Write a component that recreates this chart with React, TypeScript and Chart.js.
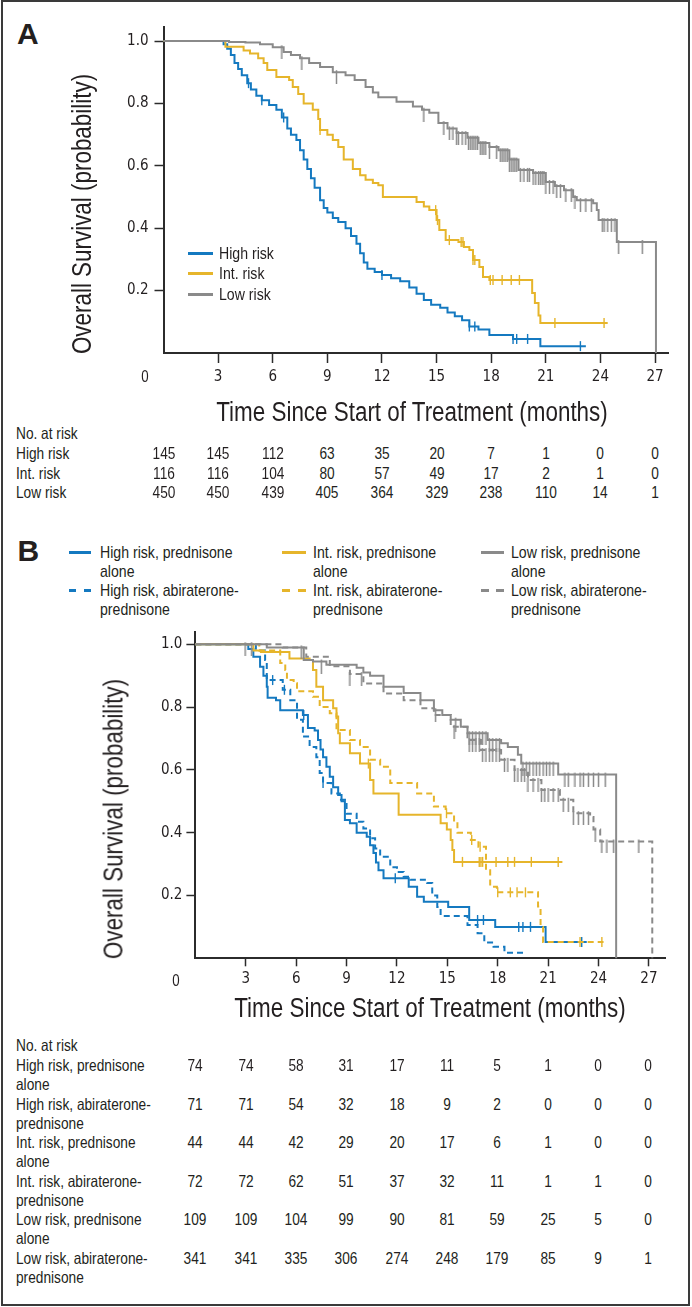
import React, { useEffect, useRef } from "react";
import { Chart, registerables } from "chart.js";

Chart.register(...registerables);

const TEXTFONT = "'Liberation Sans', Arial, sans-serif";
const TICKFONT = "'DejaVu Sans Condensed', 'DejaVu Sans', sans-serif";
const SQUEEZE = 0.83;
const INK = "#231f20";
const AXIS = "#2b2b2b";
const BLUE = "#1479c0";
const YELLOW = "#e6b52b";
const GRAY = "#8a8a8a";

// ---------- axis ticks ----------
const xTickValues = [3, 6, 9, 12, 15, 18, 21, 24, 27];
const yTickValues = [0.2, 0.4, 0.6, 0.8, 1.0];
const riskTimes = [0, 3, 6, 9, 12, 15, 18, 21, 24, 27];

// ---------- Panel A: survival curves (event time, survival after event) ----------
const aHighT = [0, 3.3, 3.5, 3.7, 3.9, 4.1, 4.3, 4.6, 4.8, 5.1, 5.4, 5.8, 6.2, 6.5, 6.8, 7.0, 7.3, 7.5, 7.7, 7.9, 8.1, 8.3, 8.6, 8.8, 9.0, 9.3, 9.6, 10.0, 10.3, 10.6, 10.8, 11.0, 11.2, 11.6, 12.0, 12.5, 13.0, 13.5, 13.9, 14.3, 14.7, 15.2, 15.6, 16.0, 16.4, 16.8, 17.3, 17.9, 19.2, 20.7];
const aHighS = [1, 0.99, 0.975, 0.955, 0.93, 0.91, 0.89, 0.865, 0.845, 0.825, 0.81, 0.795, 0.78, 0.755, 0.72, 0.7, 0.683, 0.65, 0.62, 0.59, 0.56, 0.53, 0.49, 0.465, 0.45, 0.433, 0.42, 0.4, 0.375, 0.35, 0.32, 0.29, 0.27, 0.26, 0.25, 0.24, 0.23, 0.21, 0.19, 0.17, 0.155, 0.145, 0.13, 0.118, 0.105, 0.085, 0.075, 0.058, 0.045, 0.022];
const aHighEnd = 23.2;
const aHighCens = [4.67, 5.4, 6.6, 12.0, 16.8, 17.1, 19.2, 19.4, 20.0, 22.9];

const aIntT = [0, 3.4, 4.4, 4.75, 5.2, 5.5, 5.7, 6.2, 6.9, 7.1, 7.4, 7.7, 8.2, 8.5, 8.6, 9.0, 9.3, 9.6, 9.9, 10.4, 10.8, 11.1, 11.5, 11.8, 12.05, 13.9, 14.3, 14.6, 15.0, 15.15, 15.5, 16.2, 16.5, 16.8, 17.0, 17.35, 17.55, 17.9, 20.25, 20.4, 20.6, 20.7];
const aIntS = [1, 0.982, 0.97, 0.96, 0.945, 0.93, 0.907, 0.885, 0.875, 0.853, 0.83, 0.8, 0.78, 0.75, 0.715, 0.7, 0.683, 0.66, 0.62, 0.59, 0.57, 0.555, 0.545, 0.538, 0.5, 0.484, 0.47, 0.458, 0.426, 0.394, 0.362, 0.356, 0.34, 0.33, 0.298, 0.276, 0.244, 0.234, 0.192, 0.16, 0.12, 0.096];
const aIntEnd = 24.4;
const aIntCens = [8.6, 14.95, 15.05, 15.7, 16.35, 16.45, 17.0, 17.1, 17.95, 18.1, 18.6, 19.1, 19.55, 21.5, 24.2];

const aLowT = [0, 3.6, 4.5, 5.3, 6.0, 6.6, 7.0, 7.5, 8.0, 8.6, 9.3, 10.0, 10.5, 11.1, 11.5, 11.8, 12.8, 13.7, 14.2, 14.6, 15.1, 15.6, 16.1, 16.7, 17.3, 17.9, 18.4, 19.0, 19.5, 20.3, 21.0, 21.5, 22.0, 22.5, 22.7, 23.6, 23.8, 23.9, 24.9, 27.05];
const aLowS = [1, 0.997, 0.995, 0.99, 0.98, 0.965, 0.955, 0.945, 0.93, 0.917, 0.9, 0.89, 0.875, 0.853, 0.835, 0.82, 0.805, 0.79, 0.78, 0.77, 0.737, 0.72, 0.705, 0.69, 0.673, 0.66, 0.65, 0.62, 0.587, 0.577, 0.548, 0.535, 0.522, 0.5, 0.49, 0.48, 0.458, 0.426, 0.356, 0];
const aLowCens = [6.5, 7.6, 9.5, 14.3, 15.4, 15.7, 15.9, 16.1, 16.2, 16.4, 16.6, 16.75, 16.85, 16.95, 17.05, 17.15, 17.25, 17.4, 17.5, 17.6, 17.7, 17.9, 18.3, 18.5, 18.6, 18.7, 18.8, 18.9, 19.0, 19.1, 19.2, 19.3, 19.4, 19.6, 19.8, 20.0, 20.1, 20.3, 20.45, 20.6, 20.7, 20.8, 20.9, 21.0, 21.2, 21.4, 21.6, 21.8, 22.1, 22.4, 22.6, 22.9, 23.2, 23.5, 24.1, 24.2, 24.4, 24.6, 24.8, 25.0, 26.3];

// ---------- Panel B: survival curves ----------
const bHighPT = [0, 3.15, 3.45, 3.85, 4.05, 4.25, 4.3, 4.8, 5.05, 6.4, 6.7, 7.1, 7.3, 7.45, 7.6, 7.8, 8.0, 8.2, 8.5, 8.7, 8.9, 9.2, 9.6, 10.2, 10.4, 10.6, 10.75, 10.9, 11.2, 12.7, 13.2, 13.6, 15.05, 16.3, 17.85, 20.85];
const bHighPS = [1, 0.985, 0.96, 0.928, 0.9, 0.865, 0.83, 0.822, 0.79, 0.775, 0.733, 0.725, 0.695, 0.665, 0.64, 0.61, 0.578, 0.545, 0.52, 0.5, 0.44, 0.43, 0.4, 0.387, 0.36, 0.335, 0.305, 0.28, 0.255, 0.228, 0.196, 0.18, 0.163, 0.122, 0.1, 0.052];
const bHighPEnd = 23.3;
const bHighPCens = [6.45, 11.9, 16.8, 17.15, 19.25, 19.5, 19.95, 23.0];

const bHighAT = [0, 3.6, 4.15, 4.25, 5.2, 5.65, 6.05, 6.4, 6.8, 7.2, 7.4, 7.6, 8.1, 8.6, 9.0, 9.6, 10.0, 10.4, 10.7, 11.0, 11.6, 12.0, 12.4, 12.8, 13.8, 14.1, 14.4, 14.6, 16.2, 16.8, 17.2, 17.75, 18.4];
const bHighAS = [1, 0.98, 0.95, 0.886, 0.855, 0.822, 0.76, 0.706, 0.673, 0.64, 0.59, 0.558, 0.525, 0.505, 0.46, 0.435, 0.413, 0.382, 0.35, 0.323, 0.29, 0.275, 0.26, 0.25, 0.24, 0.2, 0.163, 0.135, 0.106, 0.08, 0.05, 0.037, 0.018];
const bHighAEnd = 19.6;
const bHighACens = [4.6, 5.3, 7.6];

const bIntPT = [0, 3.45, 3.9, 5.6, 6.8, 7.0, 7.2, 7.6, 8.2, 8.4, 8.5, 8.6, 9.2, 9.8, 10.4, 10.6, 12.1, 14.6, 14.97, 15.2, 15.3, 15.4];
const bIntPS = [1, 0.98, 0.975, 0.955, 0.95, 0.918, 0.865, 0.822, 0.796, 0.77, 0.717, 0.685, 0.653, 0.62, 0.568, 0.525, 0.457, 0.43, 0.41, 0.377, 0.345, 0.307];
const bIntPEnd = 21.85;
const bIntPCens = [10.3, 15.9, 16.9, 17.0, 17.1, 17.9, 18.6, 19.0, 20.0, 21.6];

const bIntAT = [0, 3.8, 5.05, 5.35, 5.45, 5.85, 6.05, 7.0, 7.4, 8.0, 8.4, 9.2, 9.8, 10.4, 11.0, 11.6, 13.2, 14.2, 14.9, 15.4, 15.6, 16.4, 16.85, 17.3, 17.55, 17.95, 20.4, 20.55, 20.7];
const bIntAS = [1, 0.98, 0.94, 0.918, 0.886, 0.876, 0.85, 0.833, 0.8, 0.78, 0.727, 0.695, 0.673, 0.632, 0.61, 0.558, 0.525, 0.483, 0.462, 0.43, 0.4, 0.377, 0.355, 0.28, 0.228, 0.21, 0.165, 0.1, 0.052];
const bIntAEnd = 24.3;
const bIntACens = [14.95, 16.45, 16.95, 18.0, 18.75, 19.15, 19.65, 22.9, 24.2];

const bLowPT = [0, 4.25, 6.45, 7.0, 7.8, 9.6, 10.0, 10.4, 11.2, 12.4, 13.4, 14.2, 14.7, 15.2, 15.8, 16.2, 17.4, 18.2, 18.6, 19.2, 19.4, 21.6, 25.05];
const bLowPS = [1, 0.99, 0.95, 0.945, 0.935, 0.925, 0.91, 0.9, 0.865, 0.845, 0.822, 0.79, 0.775, 0.76, 0.737, 0.717, 0.695, 0.685, 0.673, 0.648, 0.62, 0.585, 0];
const bLowPCens = [2.96, 3.35, 6.3, 7.5, 14.3, 15.5, 16.3, 16.5, 16.7, 16.9, 17.1, 17.3, 17.5, 17.7, 17.9, 18.1, 19.5, 19.7, 19.9, 20.1, 20.3, 20.5, 20.7, 20.9, 21.1, 21.3, 22.0, 22.2, 22.6, 22.9, 23.1, 23.4, 23.7, 24.0, 24.4];

const bLowAT = [0, 5.2, 6.6, 8.0, 9.2, 10.0, 11.2, 12.4, 13.4, 14.2, 15.2, 16.2, 17.0, 18.2, 19.0, 19.8, 20.6, 21.7, 22.5, 23.5, 23.7, 24.1, 27.2];
const bLowAS = [1, 0.99, 0.96, 0.93, 0.905, 0.875, 0.843, 0.822, 0.796, 0.775, 0.737, 0.695, 0.663, 0.632, 0.6, 0.568, 0.536, 0.505, 0.462, 0.45, 0.41, 0.372, 0];
const bLowACens = [9.2, 9.9, 15.4, 16.3, 16.5, 16.7, 16.9, 17.1, 17.3, 17.5, 17.7, 17.9, 18.1, 18.4, 18.6, 19.0, 19.2, 19.4, 19.6, 19.8, 20.1, 20.4, 20.6, 20.8, 21.0, 21.3, 21.6, 21.9, 22.2, 22.5, 22.8, 23.1, 23.4, 23.8, 24.2, 24.5, 24.9, 26.4];

// ---------- Numbers at risk ----------
const riskAHigh = [145, 145, 112, 63, 35, 20, 7, 1, 0, 0];
const riskAInt = [116, 116, 104, 80, 57, 49, 17, 2, 1, 0];
const riskALow = [450, 450, 439, 405, 364, 329, 238, 110, 14, 1];

const riskBHighP = [74, 74, 58, 31, 17, 11, 5, 1, 0, 0];
const riskBHighA = [71, 71, 54, 32, 18, 9, 2, 0, 0, 0];
const riskBIntP = [44, 44, 42, 29, 20, 17, 6, 1, 0, 0];
const riskBIntA = [72, 72, 62, 51, 37, 32, 11, 1, 1, 0];
const riskBLowP = [109, 109, 104, 99, 90, 81, 59, 25, 5, 0];
const riskBLowA = [341, 341, 335, 306, 274, 248, 179, 85, 9, 1];

// ---------- helpers ----------
function survAt(ts: number[], ss: number[], t: number) {
  let s = ss[0];
  for (let i = 0; i < ts.length; i++) if (ts[i] <= t) s = ss[i];
  return s;
}
function curve(ts: number[], ss: number[], end: number | null, color: string, dashed: boolean) {
  const data = ts.map((t, i) => ({ x: t, y: ss[i] }));
  if (end !== null) data.push({ x: end, y: ss[ss.length - 1] });
  return {
    data,
    borderColor: color,
    borderWidth: 2,
    borderDash: dashed ? [6, 4] : [],
    stepped: "before" as const,
    pointRadius: 0,
    pointHoverRadius: 0,
    fill: false,
    clip: false as const,
  };
}
// a tick mark hanging below the curve (used for the grey censoring marks)
function hangingTick(color: string) {
  const c = document.createElement("canvas");
  c.width = 3;
  c.height = 24;
  const g = c.getContext("2d")!;
  g.fillStyle = color;
  g.fillRect(0.75, 10, 1.5, 14);
  return c;
}
function censor(ts: number[], ss: number[], cens: number[], color: string, hang: boolean) {
  return {
    data: cens.map((t) => ({ x: t, y: survAt(ts, ss, t) })),
    showLine: false,
    pointStyle: hang ? (hangingTick(color) as any) : ("line" as const),
    pointRotation: hang ? 0 : 90,
    pointRadius: 5,
    pointHoverRadius: 5,
    pointBorderColor: color,
    pointBorderWidth: 1.4,
    borderColor: color,
    clip: false as const,
  };
}

function buildA() {
  return [
    curve(aLowT, aLowS, null, GRAY, false),
    censor(aLowT, aLowS, aLowCens, GRAY, true),
    curve(aIntT, aIntS, aIntEnd, YELLOW, false),
    censor(aIntT, aIntS, aIntCens, YELLOW, false),
    curve(aHighT, aHighS, aHighEnd, BLUE, false),
    censor(aHighT, aHighS, aHighCens, BLUE, false),
  ];
}

function buildB() {
  return [
    curve(bLowPT, bLowPS, null, GRAY, false),
    censor(bLowPT, bLowPS, bLowPCens, GRAY, true),
    curve(bLowAT, bLowAS, null, GRAY, true),
    censor(bLowAT, bLowAS, bLowACens, GRAY, true),
    curve(bIntPT, bIntPS, bIntPEnd, YELLOW, false),
    censor(bIntPT, bIntPS, bIntPCens, YELLOW, false),
    curve(bIntAT, bIntAS, bIntAEnd, YELLOW, true),
    censor(bIntAT, bIntAS, bIntACens, YELLOW, false),
    curve(bHighPT, bHighPS, bHighPEnd, BLUE, false),
    censor(bHighPT, bHighPS, bHighPCens, BLUE, false),
    curve(bHighAT, bHighAS, bHighAEnd, BLUE, true),
    censor(bHighAT, bHighAS, bHighACens, BLUE, false),
  ];
}

type KMProps = {
  top: number;
  height: number;
  build: () => any[];
  xMax: number;
  yMax: number;
  pad: { left: number; right: number; top: number; bottom: number };
  yAxisWidth: number;
  xAxisHeight: number;
  xTickLen: number;
  yTickLen: number;
  xLabelPad: number;
  yLabelPad: number;
};

function KMChart(p: KMProps) {
  const ref = useRef<HTMLCanvasElement>(null);
  useEffect(() => {
    const chart = new Chart(ref.current!, {
      type: "line",
      data: { datasets: p.build() },
      options: {
        animation: false,
        responsive: false,
        devicePixelRatio: 1,
        events: [],
        layout: { padding: p.pad },
        plugins: { legend: { display: false }, tooltip: { enabled: false }, title: { display: false } },
        scales: {
          x: {
            type: "linear",
            min: 0,
            max: p.xMax,
            afterBuildTicks: (s: any) => {
              s.ticks = xTickValues.map((v) => ({ value: v }));
            },
            afterFit: (s: any) => {
              s.height = p.xAxisHeight;
            },
            grid: { drawOnChartArea: false, drawTicks: true, tickLength: p.xTickLen, tickColor: AXIS, tickWidth: 1.5 },
            border: { display: true, color: AXIS, width: 2 },
            ticks: { font: { family: TICKFONT, size: 15 }, color: INK, padding: p.xLabelPad, maxRotation: 0, autoSkip: false },
          },
          y: {
            type: "linear",
            min: 0,
            max: p.yMax,
            afterBuildTicks: (s: any) => {
              s.ticks = yTickValues.map((v) => ({ value: v }));
            },
            afterFit: (s: any) => {
              s.width = p.yAxisWidth;
            },
            grid: { drawOnChartArea: false, drawTicks: true, tickLength: p.yTickLen, tickColor: AXIS, tickWidth: 1.5 },
            border: { display: true, color: AXIS, width: 2 },
            ticks: {
              font: { family: TICKFONT, size: 15 },
              color: INK,
              padding: p.yLabelPad,
              callback: (v: any) => Number(v).toFixed(1),
            },
          },
        },
      } as any,
    });
    return () => chart.destroy();
  }, []);
  return (
    <canvas
      ref={ref}
      width={692}
      height={p.height}
      style={{ position: "absolute", left: 0, top: p.top, width: 692, height: p.height }}
    />
  );
}

function T(props: { x: number; y: number; size?: number; anchor?: "left" | "center"; bold?: boolean; children: React.ReactNode }) {
  const { x, y, size = 17, anchor = "left", bold = false } = props;
  const k = bold ? 1 : SQUEEZE;
  return (
    <div
      style={{
        position: "absolute",
        left: x,
        top: y,
        transform: `translate(${anchor === "center" ? "-50%" : "0"}, -50%) scaleX(${k})`,
        transformOrigin: anchor === "center" ? "50% 50%" : "0 50%",
        fontFamily: TEXTFONT,
        fontWeight: bold ? 700 : 400,
        fontSize: size,
        lineHeight: 1,
        whiteSpace: "nowrap",
        color: INK,
      }}
    >
      {props.children}
    </div>
  );
}

function VTitle({ x, y, size, text }: { x: number; y: number; size: number; text: string }) {
  return (
    <div
      style={{
        position: "absolute",
        left: x,
        top: y,
        transform: `translate(-50%, -50%) rotate(-90deg) scaleX(${SQUEEZE})`,
        transformOrigin: "50% 50%",
        fontFamily: TEXTFONT,
        fontSize: size,
        lineHeight: 1,
        whiteSpace: "nowrap",
        color: INK,
      }}
    >
      {text}
    </div>
  );
}

function LegendLine({ x1, x2, y, color, dashed }: { x1: number; x2: number; y: number; color: string; dashed?: boolean }) {
  if (!dashed)
    return <div style={{ position: "absolute", left: x1, top: y - 1.5, width: x2 - x1, height: 3, background: color }} />;
  const w = (x2 - x1) / 3;
  return (
    <>
      <div style={{ position: "absolute", left: x1, top: y - 1.5, width: w, height: 3, background: color }} />
      <div style={{ position: "absolute", left: x2 - w, top: y - 1.5, width: w, height: 3, background: color }} />
    </>
  );
}

const colA = (t: number) => 163.5 + 18.2 * t;
const colB = (t: number) => 195.4 + 16.78 * t;

const riskRowsA: [string, number[]][] = [
  ["High risk", riskAHigh],
  ["Int. risk", riskAInt],
  ["Low risk", riskALow],
];
const riskRowsB: [string, string, number[]][] = [
  ["High risk, prednisone", "alone", riskBHighP],
  ["High risk, abiraterone-", "prednisone", riskBHighA],
  ["Int. risk, prednisone", "alone", riskBIntP],
  ["Int. risk, abiraterone-", "prednisone", riskBIntA],
  ["Low risk, prednisone", "alone", riskBLowP],
  ["Low risk, abiraterone-", "prednisone", riskBLowA],
];

const legendB: { x1: number; x2: number; tx: number; color: string; l1: string; l2: string; m1: string; m2: string }[] = [
  { x1: 69, x2: 91, tx: 100, color: BLUE, l1: "High risk, prednisone", l2: "alone", m1: "High risk, abiraterone-", m2: "prednisone" },
  { x1: 282, x2: 306, tx: 313, color: YELLOW, l1: "Int. risk, prednisone", l2: "alone", m1: "Int. risk, abiraterone-", m2: "prednisone" },
  { x1: 481, x2: 504, tx: 511, color: GRAY, l1: "Low risk, prednisone", l2: "alone", m1: "Low risk, abiraterone-", m2: "prednisone" },
];

export default function App() {
  return (
    <div style={{ position: "absolute", left: 0, top: 0, width: 692, height: 1307, background: "#fff", overflow: "hidden" }}>
      <div
        style={{
          position: "absolute",
          left: 1,
          top: 0,
          width: 689,
          height: 1306,
          border: "2px solid #3a3a3a",
          boxSizing: "border-box",
        }}
      />
      {/* Panel A */}
      <T x={17} y={34} size={30} bold>
        A
      </T>
      <KMChart
        top={0}
        height={400}
        build={buildA}
        xMax={27.75}
        yMax={1.045}
        pad={{ left: 100, right: 23.3, top: 27, bottom: 0 }}
        yAxisWidth={63.5}
        xAxisHeight={47}
        xTickLen={10}
        yTickLen={9}
        xLabelPad={5}
        yLabelPad={6}
      />
      <T x={145} y={377} anchor="center" size={16}>0</T>
      <VTitle x={82} y={214} size={27} text="Overall Survival (probability)" />
      <T x={412} y={412} size={27} anchor="center">
        Time Since Start of Treatment (months)
      </T>
      <LegendLine x1={188} x2={213} y={253} color={BLUE} />
      <LegendLine x1={188} x2={213} y={273} color={YELLOW} />
      <LegendLine x1={188} x2={213} y={294} color={GRAY} />
      <T x={219} y={253}>High risk</T>
      <T x={219} y={273}>Int. risk</T>
      <T x={219} y={294}>Low risk</T>

      <T x={16} y={433} size={16.5}>No. at risk</T>
      {riskRowsA.map(([label, vals], i) => (
        <React.Fragment key={label}>
          <T x={16} y={453 + 19.5 * i} size={16.5}>{label}</T>
          {vals.map((v, j) => (
            <T key={j} x={colA(riskTimes[j])} y={453 + 19.5 * i} anchor="center" size={16.5}>
              {v}
            </T>
          ))}
        </React.Fragment>
      ))}

      {/* Panel B */}
      <T x={17.5} y={551} size={30} bold>
        B
      </T>
      {legendB.map((l) => (
        <React.Fragment key={l.l1}>
          <LegendLine x1={l.x1} x2={l.x2} y={552} color={l.color} />
          <T x={l.tx} y={552}>{l.l1}</T>
          <T x={l.tx} y={571}>{l.l2}</T>
          <LegendLine x1={l.x1} x2={l.x2} y={590} color={l.color} dashed />
          <T x={l.tx} y={590}>{l.m1}</T>
          <T x={l.tx} y={609}>{l.m2}</T>
        </React.Fragment>
      ))}
      <KMChart
        top={600}
        height={420}
        build={buildB}
        xMax={28.0}
        yMax={1.04}
        pad={{ left: 130, right: 26.3, top: 31.7, bottom: 0 }}
        yAxisWidth={65.4}
        xAxisHeight={61.7}
        xTickLen={8}
        yTickLen={9}
        xLabelPad={4}
        yLabelPad={4}
      />
      <T x={176} y={981} anchor="center" size={16}>0</T>
      <VTitle x={114} y={819} size={27} text="Overall Survival (probability)" />
      <T x={430} y={1008} size={27} anchor="center">
        Time Since Start of Treatment (months)
      </T>

      <T x={16} y={1045} size={16.5}>No. at risk</T>
      {riskRowsB.map(([l1, l2, vals], i) => (
        <React.Fragment key={l1}>
          <T x={16} y={1065 + 38.5 * i} size={16.5}>{l1}</T>
          <T x={16} y={1084 + 38.5 * i} size={16.5}>{l2}</T>
          {vals.map((v, j) => (
            <T key={j} x={colB(riskTimes[j])} y={1065 + 38.5 * i} anchor="center" size={16.5}>
              {v}
            </T>
          ))}
        </React.Fragment>
      ))}
    </div>
  );
}
